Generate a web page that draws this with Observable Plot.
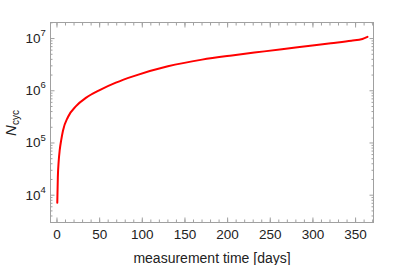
<!DOCTYPE html>
<html>
<head>
<meta charset="utf-8">
<script src="https://cdn.jsdelivr.net/npm/d3@7"></script>
<script src="https://cdn.jsdelivr.net/npm/@observablehq/plot@0.6"></script>
<style>
  html, body { margin: 0; padding: 0; background: white; }
</style>
</head>
<body>
<div id="chart"></div>
<script>
// measurement time [days]
const days = [0.35, 1, 2, 3.2, 5, 7, 12.9, 22.6, 34.3, 50, 69, 90, 130, 170, 205, 243, 282, 321, 345, 358, 364];
// N_cyc
const ncyc = [7.2e3, 2.2e4, 4.5e4, 7.3e4, 1.15e5, 1.72e5, 3.15e5, 5.14e5, 7.4e5, 1.03e6, 1.43e6, 1.91e6, 2.94e6, 3.95e6, 4.76e6, 5.68e6, 6.79e6, 8.13e6, 9.08e6, 9.82e6, 1.08e7];

const xMajor = [0, 50, 100, 150, 200, 250, 300, 350];
const xMinor = [0,10,20,30,40,50,60,70,80,90,100,110,120,130,140,150,160,170,180,190,200,210,220,230,240,250,260,270,280,290,300,310,320,330,340,350,360,370];
const yMajor = [1e4, 1e5, 1e6, 1e7];
const yMinor = [3e3,4e3,5e3,6e3,7e3,8e3,9e3, 2e4,3e4,4e4,5e4,6e4,7e4,8e4,9e4, 2e5,3e5,4e5,5e5,6e5,7e5,8e5,9e5, 2e6,3e6,4e6,5e6,6e6,7e6,8e6,9e6, 2e7];
const yExp = ["4", "5", "6", "7"];
const xTitle = "measurement time [days]";

const data = days.map((d, i) => ({t: d, n: ncyc[i]}));
const frameColor = "#a0a0a0";
const textColor = "#222";

const tickAxes = [];
for (const a of ["bottom", "top"]) {
  tickAxes.push(Plot.axisX({anchor: a, ticks: xMinor, tickSize: -2.5, text: null, label: null, stroke: frameColor}));
  tickAxes.push(Plot.axisX({anchor: a, ticks: xMajor, tickSize: -4.5, text: null, label: null, stroke: frameColor}));
}
for (const a of ["left", "right"]) {
  tickAxes.push(Plot.axisY({anchor: a, ticks: yMinor, tickSize: -2.5, text: null, label: null, stroke: frameColor}));
  tickAxes.push(Plot.axisY({anchor: a, ticks: yMajor, tickSize: -4.5, text: null, label: null, stroke: frameColor}));
}

const plot = Plot.plot({
  width: 399,
  height: 265,
  marginLeft: 50,
  marginRight: 26,
  marginTop: 22,
  marginBottom: 43,
  style: {fontFamily: "'Liberation Sans', Arial, sans-serif", fontSize: "13.5px", color: textColor, background: "white"},
  x: {domain: [-7.6, 371]},
  y: {type: "log", domain: [3.0e3, 2.03e7]},
  marks: [
    ...tickAxes,
    Plot.axisX({anchor: "bottom", ticks: xMajor, tickSize: 0, tickPadding: 7, tickFormat: d => String(d), label: null, fill: textColor}),
    Plot.text(yMajor, {y: d => d, frameAnchor: "left", text: () => "10", textAnchor: "end", dx: -10, fill: textColor, fontSize: 13.5}),
    Plot.text(yMajor, {y: d => d, frameAnchor: "left", text: (d, i) => yExp[i], textAnchor: "start", dx: -10, dy: -5.5, fill: textColor, fontSize: 9.5}),
    Plot.frame({stroke: frameColor}),
    Plot.line(data, {x: "t", y: "n", stroke: "#ff0000", strokeWidth: 2, curve: "monotone-x"}),
    Plot.text([xTitle], {frameAnchor: "bottom", dy: 40, lineAnchor: "bottom", fill: textColor, fontSize: 14})
  ]
});

const svg = d3.select(plot);
const ttl = svg.append("text")
  .attr("transform", "translate(16,123) rotate(-90)")
  .attr("text-anchor", "middle")
  .attr("fill", textColor)
  .attr("font-family", "'Liberation Sans', Arial, sans-serif")
  .attr("font-size", 15);
ttl.append("tspan").attr("font-style", "italic").text("N");
ttl.append("tspan").attr("font-size", 10).attr("dy", 3).text("cyc");

document.getElementById("chart").appendChild(plot);
</script>
</body>
</html>
